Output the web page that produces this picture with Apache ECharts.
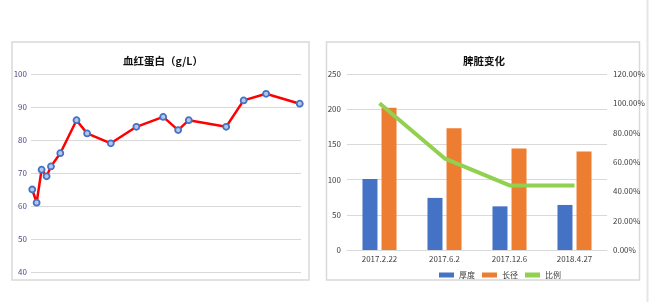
<!DOCTYPE html>
<html><head><meta charset="utf-8">
<script src="https://cdn.jsdelivr.net/npm/echarts@6/dist/echarts.min.js"></script>
<style>html,body{margin:0;padding:0;background:#fff}#c{width:650px;height:302px}</style>
</head><body><div id="c"></div>
<script>
// Left chart: hemoglobin (g/L), x = day index of measurement
const hbDays = [2, 9, 17, 25, 32, 47, 73, 90, 128, 169, 212, 236, 253, 313, 341, 377, 431];
const hbValues = [65, 61, 71, 69, 72, 76, 86, 82, 79, 84, 87, 83, 86, 84, 92, 94, 91];
const hbTicks = [40, 50, 60, 70, 80, 90, 100];
// Right chart: spleen
const spleenDates = ['2017.2.22', '2017.6.2', '2017.12.6', '2018.4.27'];
const thickness = [101, 74, 62, 64];
const lengthDiam = [202, 173, 144, 140];
const ratio = [1.00, 0.625, 0.44, 0.44];
const ratioTicks = [0, 0.2, 0.4, 0.6, 0.8, 1.0, 1.2];

const chart = echarts.init(document.getElementById('c'), null, {renderer: 'canvas'});
const grid = '#d9d9d9';
const font = '"Noto Sans CJK SC", "Noto Sans", sans-serif';
const narrow = '"Liberation Sans Narrow", "Noto Sans CJK SC", sans-serif';
chart.setOption({
  animation: false,
  textStyle: {fontFamily: font},
  graphic: [
    {type: 'rect', shape: {x: 12, y: 42, width: 297, height: 238}, style: {fill: 'none', stroke: '#d9d9d9', lineWidth: 1.5}},
    {type: 'rect', shape: {x: 326.5, y: 42, width: 313, height: 238}, style: {fill: 'none', stroke: '#d9d9d9', lineWidth: 1.5}},
    {type: 'line', shape: {x1: 647.5, y1: 0, x2: 647.5, y2: 302}, style: {stroke: '#e6e6e6', lineWidth: 2}}
  ],
  title: [
    {text: '血红蛋白（g/L）', left: 158, top: 51, textAlign: 'center',
     textStyle: {fontSize: 10.5, fontWeight: 'bold', color: '#111', fontFamily: font}},
    {text: '脾脏变化', left: 479, top: 51, textAlign: 'center',
     textStyle: {fontSize: 10.5, fontWeight: 'bold', color: '#111', fontFamily: font}}
  ],
  legend: {
    data: [{name: '厚度', icon: 'rect'}, {name: '长径', icon: 'rect'},
           {name: '比例', icon: 'rect', itemStyle: {color: '#92d050'}}],
    left: 434, top: 266, itemWidth: 15, itemHeight: 5, itemGap: 7,
    textStyle: {fontSize: 8, color: '#404040', fontFamily: font}
  },
  grid: [
    {left: 31, right: 349, top: 74, bottom: 30},
    {left: 347, right: 43, top: 74, bottom: 52}
  ],
  xAxis: [
    {type: 'value', gridIndex: 0, min: 0, max: 433, show: false},
    {type: 'category', gridIndex: 1, data: spleenDates,
     axisLine: {lineStyle: {color: grid}}, axisTick: {show: false},
     axisLabel: {fontSize: 8, color: '#404040', margin: 5, fontFamily: narrow}}
  ],
  yAxis: [
    {type: 'value', gridIndex: 0, min: hbTicks[0], max: hbTicks[hbTicks.length - 1], interval: 10,
     axisLine: {show: false}, axisTick: {show: false},
     splitLine: {lineStyle: {color: grid}},
     axisLabel: {fontSize: 8, color: '#4b4b86', margin: 4, fontFamily: narrow}},
    {type: 'value', gridIndex: 1, min: 0, max: 250, interval: 50,
     axisLine: {show: false}, axisTick: {show: false},
     splitLine: {lineStyle: {color: grid}},
     axisLabel: {fontSize: 8, color: '#404040', margin: 6, fontFamily: narrow}},
    {type: 'value', gridIndex: 1, position: 'right', min: ratioTicks[0], max: ratioTicks[ratioTicks.length - 1], interval: 0.2,
     axisLine: {show: false}, axisTick: {show: false}, splitLine: {show: false},
     axisLabel: {fontSize: 8, color: '#404040', margin: 6, fontFamily: narrow,
       formatter: v => (v * 100).toFixed(2) + '%'}}
  ],
  series: [
    {type: 'line', xAxisIndex: 0, yAxisIndex: 0,
     data: hbDays.map((d, i) => [d, hbValues[i]]),
     lineStyle: {color: '#ff0000', width: 2.5},
     symbol: 'circle', symbolSize: 6,
     itemStyle: {color: '#b4c6ea', borderColor: '#4472c4', borderWidth: 1.8}},
    {name: '厚度', type: 'bar', xAxisIndex: 1, yAxisIndex: 1, data: thickness,
     barWidth: 15, barGap: '27%', itemStyle: {color: '#4472c4'}},
    {name: '长径', type: 'bar', xAxisIndex: 1, yAxisIndex: 1, data: lengthDiam,
     barWidth: 15, barGap: '27%', itemStyle: {color: '#ed7d31'}},
    {name: '比例', type: 'line', xAxisIndex: 1, yAxisIndex: 2, data: ratio,
     symbol: 'none', lineStyle: {color: '#92d050', width: 4}, itemStyle: {color: '#92d050'}}
  ]
});
</script></body></html>
